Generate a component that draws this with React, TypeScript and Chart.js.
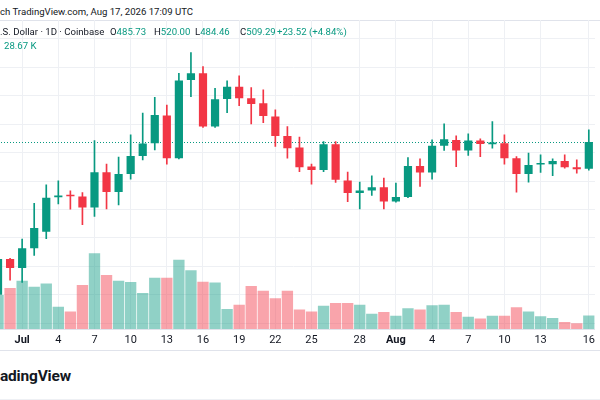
import React, { useEffect, useRef } from "react";
import { Chart, registerables } from "chart.js";

Chart.register(...registerables);

// x tick labels, one entry per daily candle ("" = no label)
const xLabels = [
  "", "", "Jul", "", "", "4", "", "", "7", "", "", "10", "", "", "13", "", "", "16", "", "",
  "19", "", "", "22", "", "", "25", "", "", "", "28", "", "", "Aug", "", "", "4", "", "", "7",
  "", "", "10", "", "", "13", "", "", "", "16",
];

const opens = [
  375.2, 406.5, 398.6, 416.1, 430.4, 460.7, 462.9, 461.4, 451.8, 482.8,
  465.3, 481.1, 497.1, 508.2, 532.5, 495.1, 563.8, 569.6, 522.8, 547.1,
  557.9, 547.7, 543.3, 531.6, 514.6, 504.4, 487.7, 484.8, 507.4, 475.4,
  464.4, 466.7, 469.6, 457.0, 460.9, 488.3, 482.5, 505.9, 511.1, 501.8,
  510.5, 507.4, 508.2, 495.1, 481.1, 489.5, 489.8, 492.7, 487.2, 485.73,
];

const highs = [
  410.0, 407.2, 424.0, 455.5, 471.7, 475.2, 466.4, 464.9, 510.5, 489.8,
  496.0, 515.5, 534.6, 548.6, 541.8, 569.6, 587.7, 575.4, 556.5, 562.9,
  567.3, 557.0, 555.0, 537.5, 522.8, 513.5, 489.8, 509.6, 509.6, 482.8,
  474.0, 479.6, 477.5, 473.2, 495.6, 494.5, 511.1, 525.2, 514.6, 516.4,
  512.0, 527.2, 515.5, 496.5, 499.5, 498.0, 494.5, 498.0, 493.6, 520.0,
];

const lows = [
  371.0, 388.0, 386.0, 409.8, 424.3, 455.0, 450.4, 436.6, 443.9, 450.6,
  454.1, 476.7, 493.6, 502.4, 489.8, 494.5, 549.1, 522.0, 522.0, 535.1,
  541.2, 525.2, 526.3, 505.3, 495.1, 483.3, 472.3, 483.3, 473.7, 457.0,
  450.6, 462.3, 450.6, 456.5, 460.3, 470.2, 476.7, 501.8, 487.7, 497.4,
  496.5, 503.9, 489.8, 465.3, 474.0, 482.5, 479.8, 486.3, 481.9, 484.46,
];

const closes = [
  406.5, 398.6, 416.1, 433.7, 460.3, 462.3, 461.6, 451.8, 482.8, 465.3,
  481.1, 497.1, 507.9, 533.1, 495.1, 563.2, 569.6, 522.8, 546.8, 557.9,
  547.7, 542.7, 532.2, 514.6, 503.9, 487.2, 484.8, 507.4, 476.1, 464.4,
  466.7, 469.6, 457.0, 460.9, 488.3, 482.5, 505.9, 511.8, 501.8, 510.5,
  507.6, 508.8, 495.1, 481.1, 489.2, 490.4, 492.5, 487.2, 485.4, 509.29,
];

// volume in thousands
const volumesK = [
  72, 86.5, 102, 89, 96, 47, 37, 93, 160, 114,
  102, 99, 76, 108, 108, 146, 124, 100, 98, 42,
  51, 91, 81, 65, 81, 41, 37, 49, 55, 55,
  51, 32, 36, 28, 44, 41, 50, 51, 36, 26,
  22, 28, 28, 46, 37, 27, 23, 15, 12, 28.67,
];

const UP = "#089981";
const DOWN = "#F23645";
const UP_VOL = "rgba(8,153,129,0.45)";
const DOWN_VOL = "rgba(242,54,69,0.45)";
const GRID = "#eef0f4";
const FONT = "Roboto, 'Open Sans', sans-serif";

const priceLinePlugin = {
  id: "priceLine",
  beforeDatasetsDraw(chart: any) {
    const { ctx, chartArea, scales } = chart;
    const y = scales.y.getPixelForValue(closes[closes.length - 1]);
    ctx.save();
    ctx.strokeStyle = UP;
    ctx.lineWidth = 1;
    ctx.setLineDash([1, 2]);
    ctx.beginPath();
    ctx.moveTo(chartArea.left, Math.round(y) + 0.5);
    ctx.lineTo(chartArea.right, Math.round(y) + 0.5);
    ctx.stroke();
    ctx.restore();
  },
};

function CandleChart() {
  const ref = useRef<HTMLCanvasElement | null>(null);
  useEffect(() => {
    if (!ref.current) return;
    const up = closes.map((c, i) => c >= opens[i]);
    const chart = new Chart(ref.current, {
      type: "bar",
      data: {
        labels: xLabels,
        datasets: [
          {
            label: "body",
            data: opens.map((o, i) => [o, closes[i]]) as any,
            backgroundColor: up.map((u) => (u ? UP : DOWN)),
            categoryPercentage: 0.68,
            barPercentage: 1,
            grouped: false,
            minBarLength: 1.5,
            order: 1,
            yAxisID: "y",
          },
          {
            label: "wick",
            data: lows.map((l, i) => [l, highs[i]]) as any,
            backgroundColor: up.map((u) => (u ? UP : DOWN)),
            barThickness: 1,
            grouped: false,
            order: 2,
            yAxisID: "y",
          },
          {
            label: "volume",
            data: volumesK,
            backgroundColor: up.map((u) => (u ? UP_VOL : DOWN_VOL)),
            categoryPercentage: 0.94,
            barPercentage: 1,
            grouped: false,
            order: 3,
            yAxisID: "vol",
          },
        ],
      },
      options: {
        animation: false,
        responsive: true,
        maintainAspectRatio: false,
        layout: { padding: 0 },
        plugins: { legend: { display: false }, tooltip: { enabled: false } },
        scales: {
          x: {
            type: "category",
            offset: true,
            grid: {
              offset: false,
              drawTicks: false,
              color: (c: any) => (xLabels[c.index] ? GRID : "rgba(0,0,0,0)"),
            },
            border: { display: true, color: "#e0e3eb" },
            ticks: {
              autoSkip: false,
              maxRotation: 0,
              padding: 5,
              color: "#131722",
              font: (c: any) => ({
                size: 11,
                family: FONT,
                weight: xLabels[c.index] === "Jul" || xLabels[c.index] === "Aug" ? "bold" : "normal",
              }),
            },
            afterFit: (s: any) => {
              s.height = 20;
            },
          },
          y: {
            position: "right",
            min: 345.1,
            max: 616.4,
            ticks: { display: false, stepSize: 25, includeBounds: false },
            grid: { color: GRID, drawTicks: false },
            border: { display: false },
            afterFit: (s: any) => {
              s.width = 0;
            },
          },
          vol: {
            display: false,
            min: 0,
            max: 652.5,
          },
        },
      },
      plugins: [priceLinePlugin],
    });
    return () => chart.destroy();
  }, []);
  return <canvas ref={ref} />;
}

export default function App() {
  const text: React.CSSProperties = {
    position: "absolute",
    whiteSpace: "nowrap",
    fontFamily: FONT,
    fontSize: 9.6,
    lineHeight: "14px",
    color: "#131722",
  };
  const val: React.CSSProperties = { color: UP };
  return (
    <div
      style={{
        position: "fixed",
        left: 0,
        top: 0,
        width: 600,
        height: 400,
        overflow: "hidden",
        background: "#ffffff",
      }}
    >
      <div style={{ position: "absolute", left: 0, top: 20, width: 600, height: 1, background: "#e0e3eb" }} />
      <div style={{ position: "absolute", left: -8, top: 20, width: 608, height: 329 }}>
        <CandleChart />
      </div>
      <div style={{ position: "absolute", left: 0, top: 350, width: 600, height: 1, background: "#e0e3eb" }} />
      <div style={{ position: "absolute", left: 0, top: 399, width: 600, height: 1, background: "#eef0f4" }} />
      <div style={{ ...text, left: 0, top: 5 }}>ch TradingView.com, Aug 17, 2026 17:09 UTC</div>
      <div style={{ ...text, left: 0, top: 25 }}>.S. Dollar · 1D · Coinbase</div>
      <div style={{ ...text, left: 110, top: 25 }}>
        O<span style={val}>485.73</span>
      </div>
      <div style={{ ...text, left: 154, top: 25 }}>
        H<span style={val}>520.00</span>
      </div>
      <div style={{ ...text, left: 195, top: 25 }}>
        L<span style={val}>484.46</span>
      </div>
      <div style={{ ...text, left: 240, top: 25 }}>
        C<span style={val}>509.29</span>
      </div>
      <div style={{ ...text, left: 277, top: 25, color: UP }}>+23.52 (+4.84%)</div>
      <div style={{ ...text, left: 4, top: 39, color: UP }}>28.67 K</div>
      <div
        style={{
          ...text,
          left: 0,
          top: 366,
          fontSize: 15.5,
          lineHeight: "20px",
          fontWeight: 700,
          letterSpacing: "-0.2px",
        }}
      >
        adingView
      </div>
    </div>
  );
}
